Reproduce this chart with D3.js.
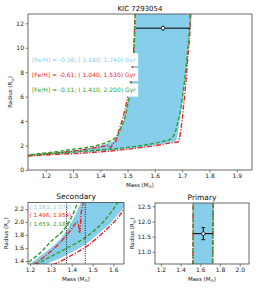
<!DOCTYPE html>
<html>
<head>
<meta charset="utf-8">
<script src="https://cdn.jsdelivr.net/npm/d3@7"></script>
<style>
  body { margin: 0; background: #fff; }
  svg { display: block; font-family: "DejaVu Sans", sans-serif; }
</style>
</head>
<body>
<svg id="chart" width="258" height="289"></svg>
<script>
// isochrones in the mass-radius plane
const blueOldMass = [1.10, 1.15, 1.204, 1.25, 1.30, 1.325, 1.35, 1.389, 1.421, 1.445, 1.46, 1.472, 1.485, 1.50, 1.512, 1.52, 1.525, 1.528, 1.53];
const blueOldRadius = [1.15, 1.26, 1.366, 1.48, 1.60, 1.674, 1.76, 1.93, 2.135, 2.31, 2.7, 3.3, 4.1, 5.6, 7.2, 8.5, 10.2, 12, 13.5];
const blueYoungMass = [1.10, 1.15, 1.20, 1.277, 1.35, 1.421, 1.48, 1.533, 1.58, 1.613, 1.661, 1.675, 1.68, 1.684, 1.688, 1.692, 1.697, 1.705, 1.712, 1.718, 1.722, 1.728, 1.732];
const blueYoungRadius = [1.13, 1.2, 1.27, 1.355, 1.45, 1.57, 1.69, 1.83, 1.96, 2.08, 2.26, 2.35, 2.5, 3.0, 3.6, 4.2, 5.0, 6.3, 7.5, 9.0, 10.2, 12, 13.5];

const redOldMass = [1.10, 1.15, 1.20, 1.25, 1.30, 1.34, 1.397, 1.413, 1.425, 1.432, 1.437, 1.442, 1.445, 1.456, 1.462, 1.472, 1.483, 1.497, 1.51, 1.518, 1.523, 1.526, 1.528];
const redOldRadius = [1.13, 1.22, 1.31, 1.42, 1.55, 1.67, 1.88, 1.955, 2.0, 1.97, 1.83, 1.95, 2.13, 2.31, 2.8, 3.5, 4.3, 5.6, 7.2, 8.5, 10.2, 12, 13.5];
const redYoungMass = [1.10, 1.15, 1.20, 1.25, 1.325, 1.40, 1.469, 1.52, 1.581, 1.62, 1.653, 1.673, 1.686, 1.69, 1.695, 1.70, 1.704, 1.71, 1.715, 1.72, 1.725, 1.73, 1.733];
const redYoungRadius = [1.10, 1.17, 1.23, 1.29, 1.366, 1.49, 1.62, 1.75, 1.93, 2.06, 2.2, 2.26, 2.32, 2.6, 3.3, 4.1, 5.0, 6.3, 7.5, 9.0, 10.2, 12, 13.5];

const greenOldMass = [1.10, 1.15, 1.20, 1.25, 1.277, 1.30, 1.35, 1.373, 1.40, 1.429, 1.45, 1.465, 1.477, 1.49, 1.50, 1.51, 1.518, 1.524, 1.527, 1.529];
const greenOldRadius = [1.17, 1.28, 1.40, 1.53, 1.62, 1.70, 1.84, 1.93, 2.08, 2.31, 2.55, 2.9, 3.5, 4.3, 5.3, 6.5, 8.0, 10, 12, 13.5];
const greenYoungMass = [1.10, 1.15, 1.20, 1.277, 1.33, 1.389, 1.45, 1.501, 1.56, 1.613, 1.64, 1.655, 1.665, 1.673, 1.686, 1.695, 1.703, 1.71, 1.717, 1.722, 1.728, 1.731];
const greenYoungRadius = [1.12, 1.22, 1.30, 1.43, 1.52, 1.62, 1.73, 1.85, 2.03, 2.26, 2.4, 2.5, 2.7, 3.0, 4.1, 5.0, 6.3, 7.5, 9.0, 10.2, 12, 13.5];

const labelsTop = ["[Fe/H] = -0.36; ( 1.180,   1.740) Gyr", "[Fe/H] = -0.61; ( 1.040,   1.530) Gyr", "[Fe/H] = -0.11; ( 1.410,   2.200) Gyr"];
const labelsSecondary = ["( 1.583,  2.073)", "( 1.496,  1.954)", "( 1.659,  2.183)"];
const labelColors = ["#87ceeb", "#e8262b", "#2ca02c"];

// observed primary: mass, radius and errors
const primaryMass = 1.63, primaryMassErr = 0.1;
const primaryRadius = 11.6, primaryRadiusErr = 0.2;
// secondary mass limits (dotted lines)
const secondaryMassLimits = [1.375, 1.465];

const topXTicks = [1.2, 1.3, 1.4, 1.5, 1.6, 1.7, 1.8, 1.9];
const topYTicks = [0, 2, 4, 6, 8, 10, 12];
const secXTicks = [1.2, 1.3, 1.4, 1.5, 1.6];
const secYTicks = [1.4, 1.6, 1.8, 2.0, 2.2];
const priXTicks = [1.2, 1.4, 1.6, 1.8, 2.0];
const priYTicks = [11.0, 11.5, 12.0, 12.5];

const RED = "#e8262b", GREEN = "#2ca02c", BLUE = "#87ceeb";

function zip(ms, rs) { return ms.map((m, i) => [m, rs[i]]); }

const svg = d3.select("#chart");
let clipCount = 0;

function drawPanel(opt) {
	const x = d3.scaleLinear().domain(opt.xDomain).range([opt.left, opt.right]);
	const y = d3.scaleLinear().domain(opt.yDomain).range([opt.bottom, opt.top]);
	const id = "clip" + (clipCount++);
	svg.append("clipPath").attr("id", id)
		.append("rect")
		.attr("x", opt.left).attr("y", opt.top)
		.attr("width", opt.right - opt.left).attr("height", opt.bottom - opt.top);

	const g = svg.append("g").attr("clip-path", `url(#${id})`);
	const line = d3.line().x(d => x(d[0])).y(d => y(d[1])).curve(d3.curveCatmullRom.alpha(0.5));

	// filled band between blue isochrones
	const bandPts = zip(blueOldMass, blueOldRadius).concat(zip(blueYoungMass, blueYoungRadius).reverse());
	g.append("path")
		.attr("d", d3.line().x(d => x(d[0])).y(d => y(d[1])).curve(d3.curveLinear)(bandPts))
		.attr("fill", BLUE);

	const curves = [
		{ pts: zip(redOldMass, redOldRadius), color: RED, dash: "5,1.5,1.2,1.5" },
		{ pts: zip(redYoungMass, redYoungRadius), color: RED, dash: "5,1.5,1.2,1.5" },
		{ pts: zip(greenOldMass, greenOldRadius), color: GREEN, dash: "4,2" },
		{ pts: zip(greenYoungMass, greenYoungRadius), color: GREEN, dash: "4,2" },
	];
	curves.forEach(c => {
		g.append("path")
			.attr("d", line(c.pts))
			.attr("fill", "none")
			.attr("stroke", c.color)
			.attr("stroke-width", 1.4)
			.attr("stroke-dasharray", c.dash);
	});

	if (opt.extra) opt.extra(g, x, y);

	// axes
	const xAxis = d3.axisBottom(x).tickValues(opt.xTicks).tickFormat(d3.format(".1f")).tickSize(2.5).tickPadding(1.5);
	const yAxis = d3.axisLeft(y).tickValues(opt.yTicks).tickFormat(opt.yFormat).tickSize(2.5).tickPadding(1.5);
	const ax = svg.append("g").attr("transform", `translate(0,${opt.bottom})`).call(xAxis);
	const ay = svg.append("g").attr("transform", `translate(${opt.left},0)`).call(yAxis);
	[ax, ay].forEach(a => {
		a.select(".domain").remove();
		a.selectAll("line").attr("stroke", "#333").attr("stroke-width", 0.6);
		a.selectAll("text").attr("font-size", 6).attr("fill", "#222").attr("font-family", "DejaVu Sans");
	});

	svg.append("rect")
		.attr("x", opt.left).attr("y", opt.top)
		.attr("width", opt.right - opt.left).attr("height", opt.bottom - opt.top)
		.attr("fill", "none").attr("stroke", "#444").attr("stroke-width", 0.8);

	// title
	svg.append("text")
		.attr("x", (opt.left + opt.right) / 2).attr("y", opt.top - 3.5)
		.attr("text-anchor", "middle").attr("font-size", opt.titleSize || 7).attr("fill", "#111")
		.text(opt.title);

	// axis labels
	const xl = svg.append("text")
		.attr("x", (opt.left + opt.right) / 2).attr("y", opt.bottom + 16.5)
		.attr("text-anchor", "middle").attr("font-size", 5.5).attr("fill", "#111");
	xl.append("tspan").text("Mass (M");
	xl.append("tspan").attr("font-size", 4).attr("dy", 1.5).text("⊙");
	xl.append("tspan").attr("dy", -1.5).text(")");

	const yl = svg.append("text")
		.attr("transform", `translate(${opt.yLabelX},${(opt.top + opt.bottom) / 2}) rotate(-90)`)
		.attr("text-anchor", "middle").attr("font-size", 5.5).attr("fill", "#111");
	yl.append("tspan").text("Radius (R");
	yl.append("tspan").attr("font-size", 4).attr("dy", 1.5).text("⊙");
	yl.append("tspan").attr("dy", -1.5).text(")");

	return { x, y };
}

function errorPoint(g, x, y, capSize) {
	const cx = x(primaryMass), cy = y(primaryRadius);
	g.append("line")
		.attr("x1", x(primaryMass - primaryMassErr)).attr("x2", x(primaryMass + primaryMassErr))
		.attr("y1", cy).attr("y2", cy).attr("stroke", "#000").attr("stroke-width", 1);
	g.append("line")
		.attr("x1", cx).attr("x2", cx)
		.attr("y1", y(primaryRadius - primaryRadiusErr)).attr("y2", y(primaryRadius + primaryRadiusErr))
		.attr("stroke", "#000").attr("stroke-width", 1);
	if (capSize) {
		[primaryRadius - primaryRadiusErr, primaryRadius + primaryRadiusErr].forEach(r => {
			g.append("line").attr("x1", cx - capSize).attr("x2", cx + capSize)
				.attr("y1", y(r)).attr("y2", y(r)).attr("stroke", "#000").attr("stroke-width", 0.8);
		});
	}
	g.append("circle").attr("cx", cx).attr("cy", cy).attr("r", 1.8)
		.attr("fill", "#fff").attr("stroke", "#000").attr("stroke-width", 0.8);
}

// main panel
drawPanel({
	left: 28, right: 252, top: 14, bottom: 170,
	xDomain: [1.135, 1.956], yDomain: [0, 12.76],
	xTicks: topXTicks, yTicks: topYTicks, yFormat: d3.format("d"),
	title: "KIC   7293054", yLabelX: 12, titleSize: 7,
	extra: (g, x, y) => {
		errorPoint(g, x, y, 0);
		const ys = [59.5, 74.5, 90];
		labelsTop.forEach((t, i) => {
			const txt = g.append("text")
				.attr("x", 32).attr("y", ys[i]).attr("dy", "0.35em")
				.attr("font-size", 6).attr("fill", labelColors[i])
				.text(t);
			const bb = txt.node().getBBox();
			g.insert("rect", function () { return txt.node(); })
				.attr("x", bb.x - 2).attr("y", bb.y - 2.5)
				.attr("width", bb.width + 4).attr("height", bb.height + 5)
				.attr("fill", "#fff");
		});
	}
});

// secondary panel
drawPanel({
	left: 28, right: 124, top: 202.5, bottom: 264,
	xDomain: [1.19, 1.651], yDomain: [1.355, 2.3],
	xTicks: secXTicks, yTicks: secYTicks, yFormat: d3.format(".1f"),
	title: "Secondary", yLabelX: 8, titleSize: 7.5,
	extra: (g, x, y) => {
		secondaryMassLimits.forEach(m => {
			g.append("line")
				.attr("x1", x(m)).attr("x2", x(m))
				.attr("y1", y.range()[1]).attr("y2", y.range()[0])
				.attr("stroke", "#000").attr("stroke-width", 0.9)
				.attr("stroke-dasharray", "1,1.3");
		});
		const ys = [207, 215.5, 224];
		labelsSecondary.forEach((t, i) => {
			g.append("text")
				.attr("x", 29.5).attr("y", ys[i]).attr("dy", "0.35em")
				.attr("font-size", 5.6).attr("fill", labelColors[i])
				.text(t);
		});
	}
});

// primary panel
drawPanel({
	left: 155, right: 249, top: 203, bottom: 264,
	xDomain: [1.14, 2.094], yDomain: [10.6, 12.61],
	xTicks: priXTicks, yTicks: priYTicks, yFormat: d3.format(".1f"),
	title: "Primary", yLabelX: 134, titleSize: 7.5,
	extra: (g, x, y) => errorPoint(g, x, y, 2)
});
</script>
</body>
</html>
